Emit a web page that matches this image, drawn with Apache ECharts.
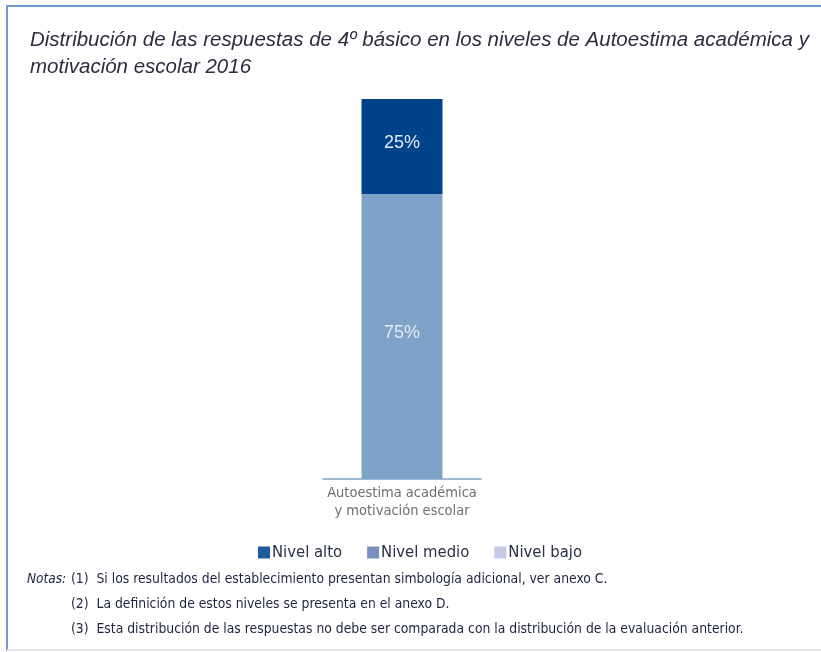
<!DOCTYPE html>
<html>
<head>
<meta charset="utf-8">
<script src="https://cdn.jsdelivr.net/npm/echarts@6/dist/echarts.min.js"></script>
<style>
  html, body { margin: 0; padding: 0; background: #fff; }
  #chart { width: 821px; height: 652px; }
</style>
</head>
<body>
<div id="chart"></div>
<script>
// datos del grafico
const categories = ['Autoestima académica\ny motivación escolar'];
const nivelBajo = [0];
const nivelMedio = [75];
const nivelAlto = [25];
const legendNames = ['Nivel alto', 'Nivel medio', 'Nivel bajo'];
const notas = [
  '(1)  Si los resultados del establecimiento presentan simbología adicional, ver anexo C.',
  '(2)  La definición de estos niveles se presenta en el anexo D.',
  '(3)  Esta distribución de las respuestas no debe ser comparada con la distribución de la evaluación anterior.'
];

const narrow = '"Liberation Sans Narrow", "DejaVu Sans Condensed", sans-serif';

const myChart = echarts.init(document.getElementById('chart'));

const segLabel = {
  show: true,
  position: 'inside',
  offset: [0, -3],
  formatter: p => p.value > 0 ? p.value + '%' : '',
  color: '#e3eaf3',
  fontSize: 18,
  fontFamily: 'Liberation Sans, sans-serif'
};

const options = {
  animation: false,
  title: {
    text: 'Distribución de las respuestas de 4º básico en los niveles de Autoestima académica y\nmotivación escolar 2016',
    left: 25,
    top: 22,
    textStyle: {
      fontStyle: 'italic',
      fontWeight: 'normal',
      fontSize: 20.5,
      lineHeight: 27,
      color: '#2d2d3f',
      fontFamily: 'Liberation Sans, sans-serif'
    }
  },
  legend: {
    left: 253,
    top: 539,
    itemWidth: 12,
    itemHeight: 12,
    itemGap: 25,
    icon: 'rect',
    textStyle: { fontSize: 16.5, color: '#2a2f4a', fontFamily: narrow, padding: [0, 0, 0, -3] },
    data: [
      { name: legendNames[0], itemStyle: { color: '#1e5c9e' } },
      { name: legendNames[1], itemStyle: { color: '#7a8fc1' } },
      { name: legendNames[2], itemStyle: { color: '#c4c9e5' } }
    ]
  },
  grid: { left: 323, width: 158, top: 99, height: 380 },
  xAxis: {
    type: 'category',
    data: categories,
    axisLine: { lineStyle: { color: '#7ea2c9', width: 1.5 } },
    axisTick: { show: false },
    axisLabel: { color: '#6e6e6e', fontSize: 14.5, lineHeight: 18, fontFamily: narrow, margin: 5 }
  },
  yAxis: {
    type: 'value',
    min: 0,
    max: 100,
    show: false
  },
  series: [
    { name: legendNames[2], type: 'bar', stack: 'n', barWidth: 81, data: nivelBajo,
      itemStyle: { color: '#c4c9e5' }, label: segLabel },
    { name: legendNames[1], type: 'bar', stack: 'n', barWidth: 81, data: nivelMedio,
      itemStyle: { color: '#7fa3c8' }, label: segLabel },
    { name: legendNames[0], type: 'bar', stack: 'n', barWidth: 81, data: nivelAlto,
      itemStyle: { color: '#00438b' }, label: segLabel }
  ],
  graphic: [
    { type: 'rect', shape: { x: 7, y: 6, width: 830, height: 644 }, silent: true,
      style: { fill: 'none', stroke: '#6f9dd0', lineWidth: 2 } },
    { type: 'line', shape: { x1: 7, y1: 650, x2: 821, y2: 650 }, silent: true,
      style: { stroke: '#e4e6ea', lineWidth: 2 } },
    { type: 'text', left: 27, top: 572,
      style: { text: 'Notas:', fontStyle: 'italic', fontSize: 13.5, fill: '#1f2340', fontFamily: narrow } },
    ...notas.map((t, i) => ({
      type: 'text', left: 71, top: 572 + i * 25,
      style: { text: t, fontSize: 13.8, fill: '#1f2340', fontFamily: narrow }
    }))
  ]
};

myChart.setOption(options);
</script>
</body>
</html>
